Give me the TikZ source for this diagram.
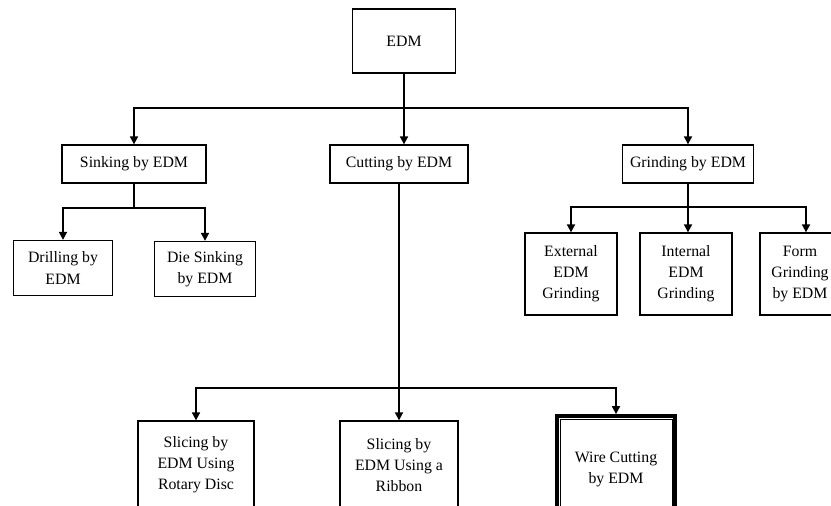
\documentclass[tikz,border=0pt]{standalone}
\usepackage{fontspec}
\setmainfont{Liberation Serif}
\usepackage{tikz}
\usetikzlibrary{arrows.meta}
\newcommand{\pxu}{0.02cm}
\tikzstyle{bx}=[draw=black, line width=0.8pt, align=center, inner sep=2pt, font=\fontsize{9}{12}\selectfont]
\tikzstyle{ln}=[line width=0.8pt]

\begin{document}
\begin{tikzpicture}[x=0.02cm, y=-0.02cm, >={Triangle[length=4.5pt,width=4.6pt]}]
%
  \path[use as bounding box, clip] (0,0) rectangle (831,505);
  \node[bx, minimum width=103*\pxu, minimum height=64*\pxu] (edm) at (404,41) {EDM};
  \node[bx, minimum width=144*\pxu, minimum height=38*\pxu] (sink) at (134,164) {Sinking by EDM};
  \node[bx, minimum width=138*\pxu, minimum height=38*\pxu] (cut) at (399,164) {Cutting by EDM};
  \node[bx, minimum width=131*\pxu, minimum height=38*\pxu] (grind) at (688,164) {Grinding by EDM};
  \node[bx, minimum width=99*\pxu, minimum height=55*\pxu] (drill) at (63,268) {Drilling by\\EDM};
  \node[bx, minimum width=101*\pxu, minimum height=55*\pxu] (die) at (205,269) {Die Sinking\\by EDM};
  \node[bx, minimum width=92*\pxu, minimum height=82*\pxu] (ext) at (571,274) {External\\EDM\\Grinding};
  \node[bx, minimum width=92*\pxu, minimum height=82*\pxu] (int) at (686,274) {Internal\\EDM\\Grinding};
  \node[bx, minimum width=80*\pxu, minimum height=82*\pxu] (form) at (800,274) {Form\\Grinding\\by EDM};
  \node[bx, minimum width=116*\pxu, minimum height=88*\pxu] (rot) at (196,465) {Slicing by\\EDM Using\\Rotary Disc};
  \node[bx, minimum width=118*\pxu, minimum height=88*\pxu] (rib) at (399,465) {Slicing by\\EDM Using a\\Ribbon};
  \node[bx, line width=2.2pt, minimum width=118*\pxu, minimum height=106*\pxu] (wire) at (616,469) {Wire Cutting\\by EDM};
  \draw[line width=0.5pt] ([shift={(5,5)}]wire.north west) rectangle ([shift={(-5,-5)}]wire.south east);
%
  \coordinate (j0) at (404,108);
  \coordinate (j1) at (134,208);
  \coordinate (j2) at (399,388);
  \coordinate (j3) at (688,207);
%
  \draw[ln] (edm) -- (j0);
  \draw[ln,->] (j0) -| (sink);
  \draw[ln,->] (j0) -- (j0 |- cut.north);
  \draw[ln,->] (j0) -| (grind);
  \draw[ln] (sink) -- (j1);
  \draw[ln,->] (j1) -| (drill);
  \draw[ln,->] (j1) -| (die);
  \draw[ln] (cut) -- (j2);
  \draw[ln,->] (j2) -| (rot);
  \draw[ln,->] (j2) -- (rib);
  \draw[ln,->] (j2) -| (wire);
  \draw[ln] (grind) -- (j3);
  \draw[ln,->] (j3) -| (ext);
  \draw[ln,->] (j3) -- (j3 |- int.north);
  \draw[ln,->] (j3) -| ([xshift=6*\pxu]form.north);
%
\end{tikzpicture}
\end{document}
